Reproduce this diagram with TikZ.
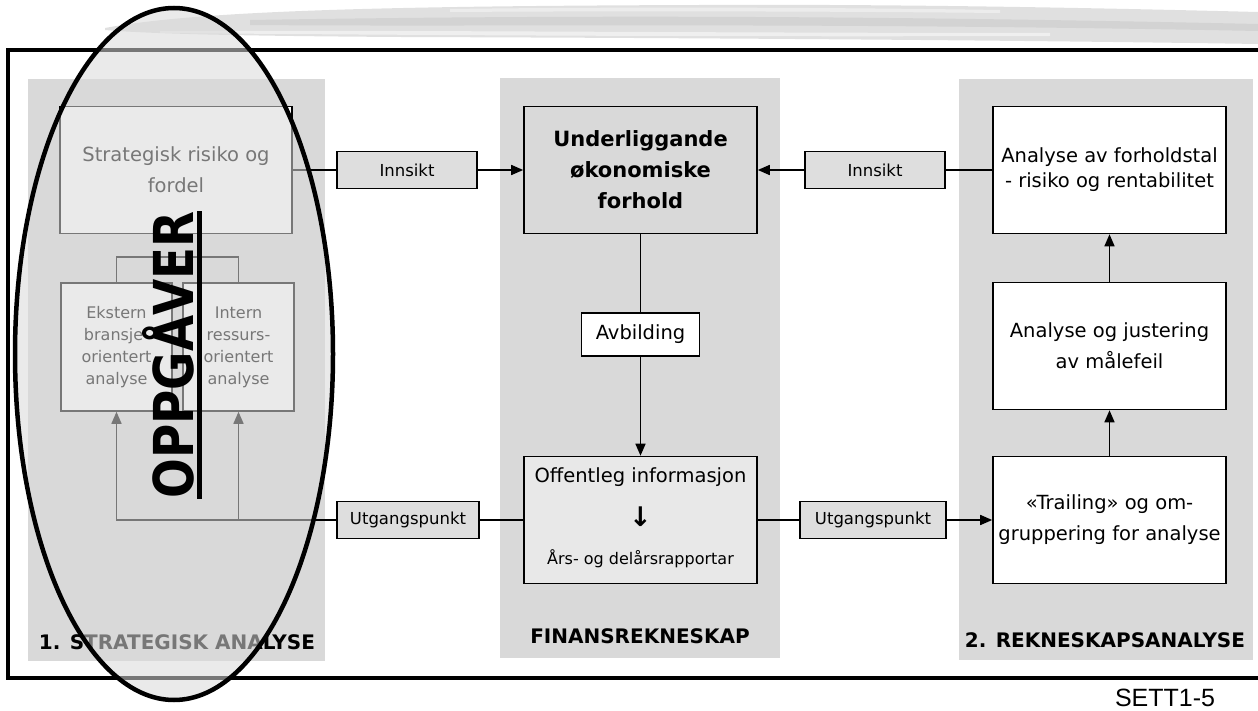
\documentclass[tikz,border=0pt]{standalone}
\usepackage{fontspec}
\setmainfont{DejaVu Sans}
\newfontfamily\arialfont{Liberation Sans}
\usetikzlibrary{arrows.meta}

\begin{document}
\begin{tikzpicture}[x=1pt, y=-1pt,
  every node/.style={font=\fontsize{19.5}{31}\selectfont, align=center, inner sep=0pt},
  panel/.style={fill=black!15, draw=none},
  tbox/.style={draw, line width=1.6pt, fill=white, minimum width=233pt, minimum height=127pt},
  lbox/.style={draw, line width=1.6pt, fill=black!13, minimum width=140pt, minimum height=37pt,
    font=\fontsize{16.5}{20}\selectfont},
  title/.style={font=\fontsize{20}{24}\selectfont\bfseries},
  link/.style={line width=1.6pt},
  arr/.style={line width=1.6pt, -{Triangle[length=12pt, width=10pt]}}]
  \useasboundingbox (0,0) rectangle (1258,711);
  % Brush stroke along the top
  \fill[black!12] (105,28) .. controls (200,10) and (400,6) .. (700,5)
    .. controls (900,4) and (1100,8) .. (1258,12) -- (1258,44)
    .. controls (1000,40) and (700,38) .. (400,37) .. controls (250,36) and (150,34) .. (105,30) -- cycle;
  \fill[black!22, fill opacity=0.5] (250,20) .. controls (500,16) and (800,14) .. (1258,24)
    -- (1258,31) .. controls (800,22) and (500,27) .. (250,25) -- cycle;
  \fill[white, fill opacity=0.5] (160,31) .. controls (400,30) and (700,33) .. (1050,33)
    -- (1050,36) .. controls (700,37) and (400,35) .. (160,33) -- cycle;
  \fill[white, fill opacity=0.4] (450,9) .. controls (600,7) and (800,7) .. (1000,10)
    -- (1000,13) .. controls (800,11) and (600,11) .. (450,12) -- cycle;
  % Frame
  \draw[line width=4.5pt] (1270,50) -- (8,50) -- (8,678) -- (1270,678);
  % Three columns
  \fill[panel] (28,79) rectangle (325,661);
  \fill[panel] (500,78) rectangle (780,658);
  \fill[panel] (959,79) rectangle (1253,660);
  % 1. Strategisk analyse
  \node[tbox, minimum width=232pt] (strat) at (176,170) {Strategisk risiko og\\fordel};
  \node[tbox, minimum width=111pt, minimum height=128pt, font=\fontsize{16}{22}\selectfont]
    (ekst) at (116.5,347) {Ekstern\\bransje-\\orientert\\analyse};
  \node[tbox, minimum width=111pt, minimum height=128pt, font=\fontsize{16}{22}\selectfont]
    (intr) at (238.5,347) {Intern\\ressurs-\\orientert\\analyse};
  \draw[link] (ekst.north) -- ++(0,-25) -| (intr.north);
  % Finansrekneskap
  \node[tbox, fill=black!15, font=\fontsize{21}{31}\selectfont\bfseries]
    (under) at (640.5,170) {Underliggande\\økonomiske\\forhold};
  \node[tbox, minimum width=118pt, minimum height=43pt] (avb) at (640.5,334.5) {Avbilding};
  \node[tbox, fill=black!9] (offl) at (640.5,520) {};
  \node (offlA) at (640.5,477) {Offentleg informasjon};
  \node[font=\fontsize{27}{27}\selectfont\bfseries] (offlB) at (640.5,517) {↓};
  \node[font=\fontsize{16}{20}\selectfont] (offlC) at (640.5,559) {Års- og delårsrapportar};
  % 2. Rekneskapsanalyse
  \node[tbox, font=\fontsize{19.5}{25}\selectfont] (fhs) at (1109.5,170)
    {Analyse av forholdstal\\- risiko og rentabilitet};
  \node[tbox] (malf) at (1109.5,346) {Analyse og justering\\av målefeil};
  \node[tbox] (trail) at (1109.5,520) {«Trailing» og om-\\gruppering for analyse};
  % Labels between the columns
  \node[lbox] (innL) at (407,170) {Innsikt};
  \node[lbox] (innR) at (875,170) {Innsikt};
  \node[lbox, minimum width=142pt] (utgL) at (408,520) {Utgangspunkt};
  \node[lbox, minimum width=146pt] (utgR) at (873,520) {Utgangspunkt};
  % Connectors
  \draw[link] (strat) -- (innL);
  \draw[arr] (innL) -- (under);
  \draw[link] (fhs) -- (innR);
  \draw[arr] (innR) -- (under);
  \draw[link] (under) -- (avb);
  \draw[arr] (avb) -- (offl);
  \draw[link] (offl) -- (utgL);
  \draw[arr] (utgL.west) -| (ekst.south);
  \draw[arr] (intr.south |- utgL.west) -- (intr.south);
  \draw[link] (offl) -- (utgR);
  \draw[arr] (utgR) -- (trail);
  \draw[arr] (trail) -- (malf);
  \draw[arr] (malf) -- (fhs);
  % Column titles
  \node[title] (t1) at (177,642) {1. STRATEGISK ANALYSE};
  \node[title] (t2) at (640,636) {FINANSREKNESKAP};
  \node[title] (t3) at (1105,640) {2. REKNESKAPSANALYSE};
  % Ellipse marking the task
  \draw[line width=4.5pt, fill=black!15, fill opacity=0.55] (174,354) ellipse [x radius=159, y radius=346];
  \node[rotate=90, anchor=base, font=\fontsize{55}{55}\selectfont\bfseries]
    (oppg) at (193,355) {\scalebox{0.85}[1]{OPPGÅVER}};
  \draw[line width=5pt] ([xshift=6pt]oppg.south west) -- ([xshift=6pt]oppg.south east);
  \node[font=\arialfont\fontsize{25}{25}\selectfont] (sett) at (1165,698) {SETT1-5};
\end{tikzpicture}
\end{document}
